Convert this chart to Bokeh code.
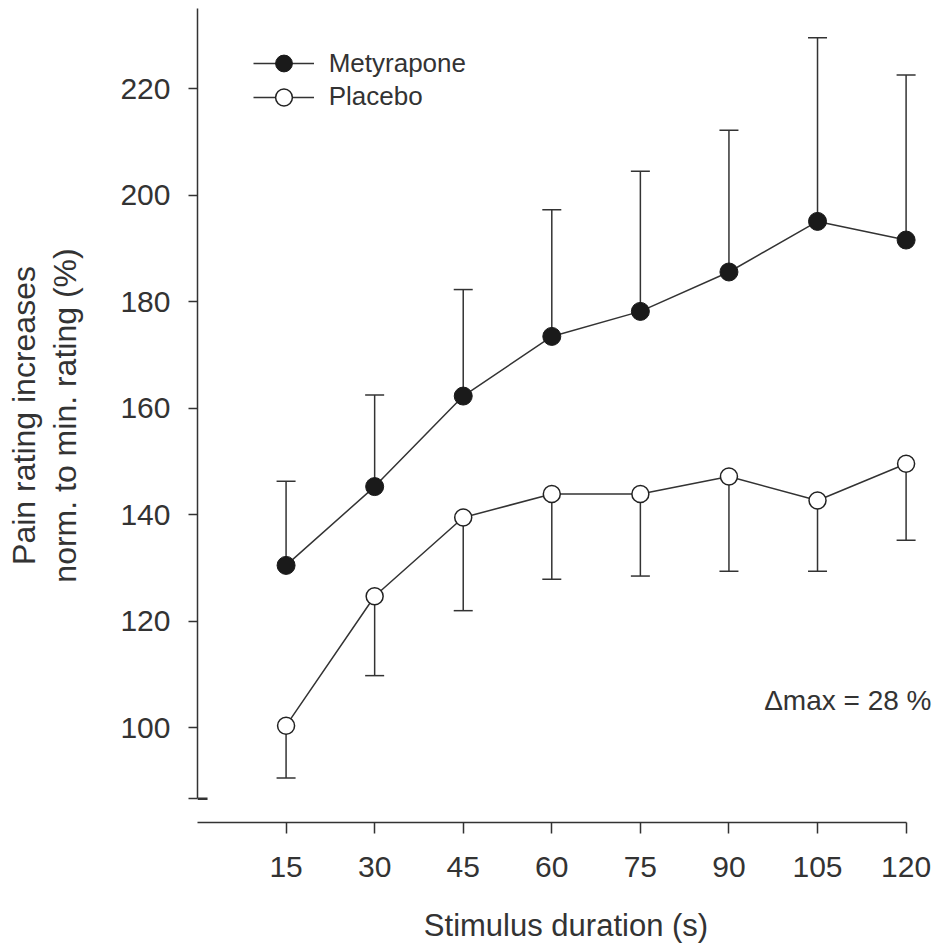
from bokeh.plotting import figure
from bokeh.models import (ColumnDataSource, Whisker, TeeHead, Legend, LegendItem,
                          Label, FixedTicker, Range1d)
from bokeh.embed import file_html
from bokeh.resources import INLINE

# ---- data ----
durations = [15, 30, 45, 60, 75, 90, 105, 120]
metyrapone_mean = [130.5, 145.3, 162.3, 173.5, 178.2, 185.6, 195.1, 191.6]
metyrapone_upper = [146.3, 162.5, 182.3, 197.3, 204.5, 212.2, 229.6, 222.6]
placebo_mean = [100.4, 124.7, 139.5, 143.9, 143.9, 147.2, 142.7, 149.6]
placebo_lower = [90.6, 109.8, 122.0, 127.9, 128.5, 129.4, 129.4, 135.2]
x_ticks = [15, 30, 45, 60, 75, 90, 105, 120]
y_ticks = [100, 120, 140, 160, 180, 200, 220]
y_axis_min = 86.7
y_axis_max = 235.08
x_axis_bounds = (0, 120)
series_names = ["Metyrapone", "Placebo"]
x_title = "Stimulus duration (s)"
y_title = "Pain rating increases\nnorm. to min. rating (%)"
note_text = "\u0394max = 28 %"

FONT = "Liberation Sans"
INK = "#333333"
DARK = "#1a1a1a"

p = figure(width=936, height=949,
           x_range=Range1d(0, 124.81), y_range=Range1d(82.22, y_axis_max),
           output_backend="svg", toolbar_location=None,
           min_border_left=197, min_border_right=2,
           min_border_top=8, min_border_bottom=127)
p.xgrid.visible = False
p.ygrid.visible = False
p.outline_line_color = None
p.background_fill_color = "white"
p.border_fill_color = "white"

# x axis
xa = p.xaxis[0]
xa.ticker = FixedTicker(ticks=x_ticks)
xa.bounds = x_axis_bounds
xa.axis_line_color = INK
xa.axis_line_width = 1.5
xa.major_tick_line_color = INK
xa.major_tick_line_width = 1.5
xa.major_tick_out = 11
xa.major_tick_in = 0
xa.minor_tick_out = 0
xa.minor_tick_in = 0
xa.major_label_text_font = FONT
xa.major_label_text_font_size = "30px"
xa.major_label_text_color = INK
xa.major_label_standoff = 23
xa.axis_label = x_title
xa.axis_label_text_font = FONT
xa.axis_label_text_font_size = "31px"
xa.axis_label_text_font_style = "normal"
xa.axis_label_text_color = INK
xa.axis_label_standoff = 28

# y axis
ya = p.yaxis[0]
ya.ticker = FixedTicker(ticks=[y_axis_min] + y_ticks)
ya.bounds = (y_axis_min, y_axis_max)
ya.major_label_overrides = {y_axis_min: ""}
ya.axis_line_color = INK
ya.axis_line_width = 1.5
ya.major_tick_line_color = INK
ya.major_tick_line_width = 1.5
ya.major_tick_out = 9
ya.major_tick_in = 0
ya.minor_tick_out = 0
ya.minor_tick_in = 0
ya.major_label_text_font = FONT
ya.major_label_text_font_size = "30px"
ya.major_label_text_color = INK
ya.major_label_standoff = 18
ya.axis_label = y_title
ya.axis_label_text_font = FONT
ya.axis_label_text_font_size = "32px"
ya.axis_label_text_font_style = "normal"
ya.axis_label_text_color = INK
ya.axis_label_text_line_height = 1.14
ya.axis_label_standoff = 34

# thicker inner part of the bottom tick of the y axis
p.segment(x0=[0], y0=[y_axis_min], x1=[1.7], y1=[y_axis_min],
          line_color=INK, line_width=2.5)

met_src = ColumnDataSource(dict(x=durations, y=metyrapone_mean, upper=metyrapone_upper))
pla_src = ColumnDataSource(dict(x=durations, y=placebo_mean, lower=placebo_lower))

w1 = Whisker(base="x", lower="y", upper="upper", source=met_src,
             upper_head=TeeHead(size=19, line_color=INK, line_width=1.5),
             lower_head=None, line_color=INK, line_width=1.5, level="underlay")
w2 = Whisker(base="x", lower="lower", upper="y", source=pla_src,
             lower_head=TeeHead(size=19, line_color=INK, line_width=1.5),
             upper_head=None, line_color=INK, line_width=1.5, level="underlay")
p.add_layout(w1)
p.add_layout(w2)

met_line = p.line("x", "y", source=met_src, line_color=INK, line_width=1.5)
pla_line = p.line("x", "y", source=pla_src, line_color=INK, line_width=1.5)
met_pts = p.scatter("x", "y", source=met_src, marker="circle", size=18,
                    fill_color=DARK, line_color=DARK, line_width=1)
pla_pts = p.scatter("x", "y", source=pla_src, marker="circle", size=17,
                    fill_color="white", line_color="#222222", line_width=1.5)

def make_legend(label, rends, loc):
    return Legend(items=[LegendItem(label=label, renderers=rends)], location=loc,
                  glyph_width=61, glyph_height=42, label_standoff=15,
                  padding=0, margin=0, spacing=0,
                  border_line_color=None, background_fill_alpha=0,
                  label_text_font=FONT, label_text_font_size="26px",
                  label_text_color=INK)

p.add_layout(make_legend(series_names[0], [met_line, met_pts], (55.7, 737.7)))
p.add_layout(make_legend(series_names[1], [pla_line, pla_pts], (55.7, 704.3)))

p.add_layout(Label(x=734, y=122, x_units="screen", y_units="screen", text=note_text,
                   text_align="right", text_baseline="alphabetic",
                   text_font=FONT, text_font_size="28px", text_color=INK))

open("out.html", "w").write(file_html(p, INLINE))
